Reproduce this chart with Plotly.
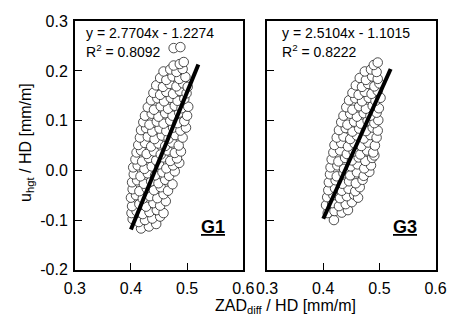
import plotly.graph_objects as go

# ---------------- data ----------------
g1_x = [0.418, 0.432, 0.445,
        0.403, 0.414, 0.425, 0.438, 0.452,
        0.401, 0.410, 0.421, 0.433, 0.446, 0.458,
        0.402, 0.415, 0.427, 0.440, 0.452, 0.462,
        0.400, 0.409, 0.421, 0.434, 0.447, 0.458,
        0.403, 0.415, 0.428, 0.441, 0.453, 0.466,
        0.402, 0.411, 0.423, 0.436, 0.449, 0.461, 0.474,
        0.405, 0.417, 0.430, 0.443, 0.456, 0.468, 0.478,
        0.404, 0.412, 0.424, 0.437, 0.450, 0.463, 0.475, 0.486,
        0.408, 0.420, 0.432, 0.445, 0.458, 0.470, 0.482,
        0.410, 0.418, 0.428, 0.441, 0.453, 0.465, 0.478, 0.489,
        0.413, 0.425, 0.436, 0.449, 0.461, 0.473, 0.485,
        0.416, 0.430, 0.442, 0.455, 0.467, 0.479, 0.492,
        0.418, 0.427, 0.438, 0.451, 0.463, 0.475, 0.488, 0.498,
        0.422, 0.433, 0.446, 0.458, 0.470, 0.483, 0.495,
        0.425, 0.437, 0.449, 0.461, 0.474, 0.486, 0.500,
        0.430, 0.441, 0.453, 0.466, 0.478, 0.490, 0.502,
        0.436, 0.447, 0.459, 0.471, 0.483, 0.495,
        0.440, 0.452, 0.463, 0.475, 0.487, 0.499,
        0.445, 0.457, 0.469, 0.481, 0.493, 0.501,
        0.452, 0.463, 0.474, 0.486, 0.497,
        0.458, 0.470, 0.481, 0.492,
        0.476, 0.487, 0.494,
        0.476, 0.488]
g1_y = [-0.117, -0.113, -0.108,
        -0.098, -0.104, -0.100, -0.097, -0.093,
        -0.086, -0.082, -0.088, -0.084, -0.080, -0.086,
        -0.072, -0.068, -0.073, -0.066, -0.071, -0.062,
        -0.055, -0.050, -0.057, -0.052, -0.056, -0.048,
        -0.038, -0.042, -0.036, -0.040, -0.034, -0.041,
        -0.024, -0.020, -0.027, -0.022, -0.026, -0.019, -0.028,
        -0.008, -0.012, -0.006, -0.010, -0.004, -0.011, -0.002,
        0.006, 0.010, 0.003, 0.008, 0.012, 0.004, 0.010, 0.015,
        0.022, 0.018, 0.025, 0.020, 0.026, 0.019, 0.024,
        0.036, 0.040, 0.033, 0.038, 0.032, 0.040, 0.035, 0.038,
        0.051, 0.055, 0.048, 0.054, 0.049, 0.056, 0.050,
        0.066, 0.068, 0.063, 0.070, 0.064, 0.071, 0.066,
        0.081, 0.085, 0.078, 0.084, 0.079, 0.086, 0.080, 0.086,
        0.097, 0.092, 0.098, 0.094, 0.100, 0.095, 0.099,
        0.110, 0.114, 0.108, 0.115, 0.110, 0.116, 0.110,
        0.127, 0.122, 0.129, 0.124, 0.130, 0.125, 0.128,
        0.141, 0.145, 0.139, 0.146, 0.140, 0.144,
        0.156, 0.152, 0.158, 0.154, 0.160, 0.155,
        0.171, 0.168, 0.174, 0.169, 0.175, 0.168,
        0.186, 0.182, 0.189, 0.184, 0.188,
        0.199, 0.203, 0.198, 0.204,
        0.211, 0.214, 0.218,
        0.246, 0.248]

g3_x = [0.419,
        0.408, 0.420, 0.433, 0.444,
        0.405, 0.416, 0.428, 0.440, 0.451,
        0.407, 0.418, 0.430, 0.442, 0.455, 0.462,
        0.409, 0.421, 0.433, 0.445, 0.457, 0.465,
        0.410, 0.422, 0.434, 0.446, 0.458, 0.470,
        0.412, 0.424, 0.436, 0.448, 0.460, 0.472, 0.482,
        0.413, 0.425, 0.437, 0.449, 0.461, 0.473, 0.485,
        0.415, 0.427, 0.439, 0.451, 0.463, 0.475, 0.487, 0.491,
        0.418, 0.430, 0.442, 0.454, 0.466, 0.478, 0.489,
        0.420, 0.432, 0.444, 0.456, 0.468, 0.480, 0.492,
        0.424, 0.436, 0.448, 0.460, 0.472, 0.484, 0.495,
        0.428, 0.440, 0.452, 0.464, 0.476, 0.488, 0.497,
        0.432, 0.443, 0.455, 0.467, 0.479, 0.491, 0.498,
        0.436, 0.448, 0.460, 0.472, 0.484, 0.495,
        0.441, 0.452, 0.464, 0.476, 0.488, 0.499,
        0.446, 0.457, 0.469, 0.481, 0.493, 0.502,
        0.452, 0.463, 0.474, 0.486, 0.497,
        0.458, 0.469, 0.480, 0.491, 0.500,
        0.465, 0.476, 0.487, 0.497,
        0.474, 0.485, 0.495,
        0.490, 0.497]
g3_y = [-0.100,
        -0.086, -0.082, -0.085, -0.080,
        -0.070, -0.066, -0.072, -0.068, -0.064,
        -0.054, -0.050, -0.056, -0.052, -0.049, -0.055,
        -0.040, -0.036, -0.041, -0.037, -0.042, -0.034,
        -0.024, -0.020, -0.027, -0.022, -0.026, -0.019,
        -0.008, -0.012, -0.006, -0.010, -0.004, -0.011, -0.003,
        0.006, 0.010, 0.003, 0.008, 0.012, 0.004, 0.010,
        0.022, 0.018, 0.025, 0.020, 0.026, 0.019, 0.025, 0.030,
        0.036, 0.040, 0.033, 0.038, 0.032, 0.040, 0.036,
        0.051, 0.055, 0.048, 0.054, 0.049, 0.056, 0.050,
        0.066, 0.068, 0.063, 0.070, 0.064, 0.071, 0.066,
        0.081, 0.085, 0.078, 0.084, 0.079, 0.086, 0.080,
        0.097, 0.092, 0.098, 0.094, 0.100, 0.095, 0.101,
        0.110, 0.114, 0.108, 0.115, 0.110, 0.116,
        0.127, 0.122, 0.129, 0.124, 0.130, 0.125,
        0.141, 0.145, 0.139, 0.146, 0.140, 0.146,
        0.156, 0.152, 0.158, 0.154, 0.160,
        0.171, 0.168, 0.174, 0.169, 0.175,
        0.186, 0.182, 0.189, 0.184,
        0.199, 0.203, 0.198,
        0.212, 0.217]

fit_x = [0.40, 0.52]
g1_slope, g1_icpt, g1_r2 = 2.7704, -1.2274, 0.8092
g3_slope, g3_icpt, g3_r2 = 2.5104, -1.1015, 0.8222

x_ticks = [0.3, 0.4, 0.5, 0.6]
y_ticks = [-0.2, -0.1, 0.0, 0.1, 0.2, 0.3]

FONT = "Liberation Sans, Arial, sans-serif"

fig = go.Figure()

panels = [
    ("x", "y", g1_x, g1_y, g1_slope, g1_icpt, g1_r2, "G1"),
    ("x2", "y2", g3_x, g3_y, g3_slope, g3_icpt, g3_r2, "G3"),
]
for xa, ya, px, py, s, b, r2, name in panels:
    fig.add_trace(go.Scatter(
        x=px, y=py, mode="markers", xaxis=xa, yaxis=ya,
        marker=dict(symbol="circle", size=9.5, color="white",
                    line=dict(color="#222", width=0.8)),
        showlegend=False, hoverinfo="skip"))
    fig.add_trace(go.Scatter(
        x=fit_x, y=[s * v + b for v in fit_x], mode="lines",
        xaxis=xa, yaxis=ya, line=dict(color="black", width=4),
        showlegend=False, hoverinfo="skip"))
    sign = "-" if b < 0 else "+"
    x0 = 0.317 if name == "G1" else 0.323
    fig.add_annotation(
        x=x0, y=0.276, xref=xa, yref=ya,
        text=f"y = {s:.4f}x {sign} {abs(b):.4f}", showarrow=False,
        xanchor="left", yanchor="middle", font=dict(size=14, family=FONT, color="black"))
    fig.add_annotation(
        x=x0, y=0.241, xref=xa, yref=ya,
        text=f"R<sup>2</sup> = {r2:.4f}", showarrow=False,
        xanchor="left", yanchor="middle", font=dict(size=14, family=FONT, color="black"))
    fig.add_annotation(
        x=0.546, y=-0.113, xref=xa, yref=ya,
        text=f"<b><u>{name}</u></b>", showarrow=False,
        xanchor="center", yanchor="middle", font=dict(size=18, family=FONT, color="black"))

axis_common = dict(
    range=[0.3, 0.6], tickvals=x_ticks, ticktext=[f"{v:.1f}" for v in x_ticks],
    ticks="inside", ticklen=7, tickwidth=1, tickcolor="black",
    showline=True, linecolor="black", linewidth=1.5, mirror=True,
    showgrid=False, zeroline=False, ticklabelstandoff=3,
    tickfont=dict(size=16, family=FONT, color="black"))
yaxis_common = dict(
    range=[-0.2, 0.3], tickvals=y_ticks,
    ticks="inside", ticklen=7, tickwidth=1, tickcolor="black",
    showline=True, linecolor="black", linewidth=1.5, mirror=True,
    showgrid=False, zeroline=False,
    tickfont=dict(size=16, family=FONT, color="black"))

W, H = 458, 329
fig.update_layout(
    width=W, height=H,
    margin=dict(l=0, r=0, t=0, b=0),
    paper_bgcolor="white", plot_bgcolor="white",
    xaxis=dict(domain=[67 / W, 244 / W], anchor="y", **axis_common),
    xaxis2=dict(domain=[269 / W, 446 / W], anchor="y2", **axis_common),
    yaxis=dict(domain=[1 - 276 / H, 1 - 14 / H], anchor="x",
               ticktext=[f"{v:.1f}" for v in y_ticks], ticklabelstandoff=2, **yaxis_common),
    yaxis2=dict(domain=[1 - 276 / H, 1 - 14 / H], anchor="x2",
                showticklabels=False, **yaxis_common),
)
fig.add_annotation(
    x=288 / W, y=1 - 315 / H, xref="paper", yref="paper",
    text="ZAD<sub>diff</sub> / HD [mm/m]", showarrow=False,
    xanchor="center", yanchor="middle", font=dict(size=16, family=FONT, color="black"))
fig.add_annotation(
    x=16 / W, y=1 - 142 / H, xref="paper", yref="paper", textangle=-90,
    text="u<sub>hgt</sub> / HD [mm/m]", showarrow=False,
    xanchor="center", yanchor="middle", font=dict(size=16, family=FONT, color="black"))

fig.write_html("out.html")
